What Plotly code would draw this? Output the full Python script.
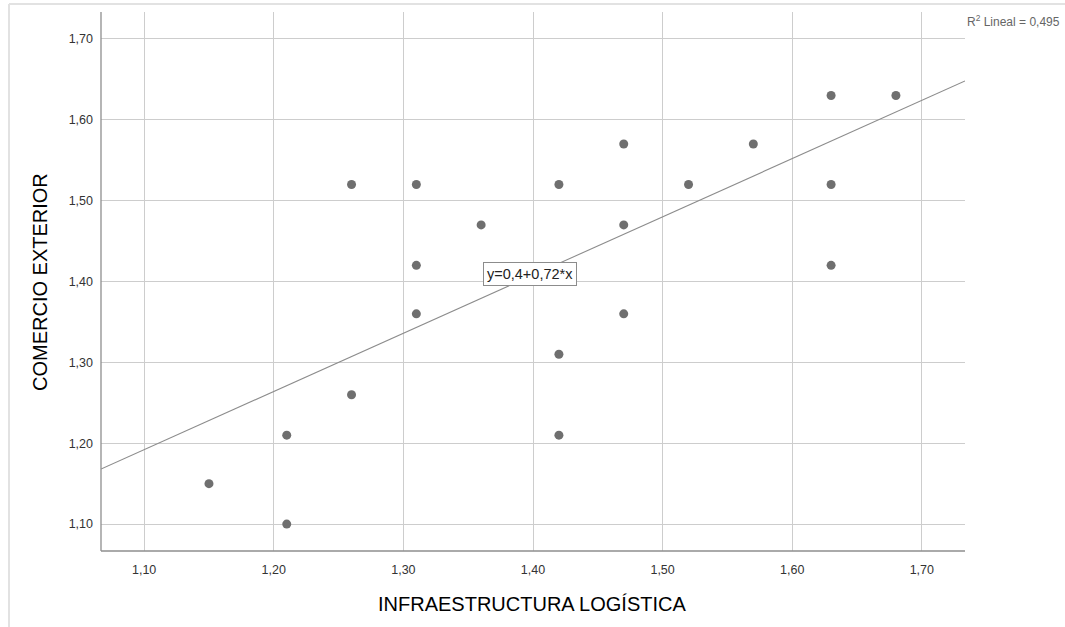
import numpy as np
import plotly.graph_objects as go

# Observed pairs: logistics infrastructure index vs. foreign trade index
infraestructura = [1.15, 1.21, 1.21, 1.26, 1.26, 1.31, 1.31, 1.31, 1.36, 1.42, 1.42,
                   1.42, 1.47, 1.47, 1.47, 1.52, 1.57, 1.63, 1.63, 1.63, 1.68]
comercio = [1.15, 1.10, 1.21, 1.52, 1.26, 1.52, 1.42, 1.36, 1.47, 1.52, 1.31,
            1.21, 1.57, 1.47, 1.36, 1.52, 1.57, 1.63, 1.52, 1.42, 1.63]

# Linear fit reported with the chart
intercepto = 0.4
pendiente = 0.72
r2_lineal = 0.495

x_range = [1.0667, 1.7333]
y_range = [1.0667, 1.7333]

W, H = 1065, 627
L, R, T, B = 101, 100, 12, 76
pw, ph = W - L - R, H - T - B


def px_x(px):
    return (px - L) / pw


def px_y(py):
    return (H - B - py) / ph


fit_x = np.array(x_range)
fit_y = intercepto + pendiente * fit_x

fig = go.Figure()

fig.add_trace(go.Scatter(
    x=fit_x, y=fit_y, mode="lines",
    line=dict(color="#8c8c8c", width=1.1),
    hoverinfo="skip", showlegend=False,
))

fig.add_trace(go.Scatter(
    x=infraestructura, y=comercio, mode="markers",
    marker=dict(color="#6f6f6f", size=9, line=dict(width=0)),
    showlegend=False,
))

axis_common = dict(
    showgrid=True, gridcolor="#cdcdcd", gridwidth=1,
    zeroline=False,
    showline=False,
    ticks="",
    tick0=1.1, dtick=0.1, tickformat=".2f",
    tickfont=dict(family="Liberation Sans, Arial, sans-serif", size=12.5, color="#333333"),
)

fig.update_layout(
    width=W, height=H,
    margin=dict(l=L, r=R, t=T, b=B, autoexpand=False),
    paper_bgcolor="white", plot_bgcolor="white",
    separators=", ",
    xaxis=dict(range=x_range, ticklabelstandoff=9, **axis_common),
    yaxis=dict(range=y_range, ticklabelstandoff=7, **axis_common),
    font=dict(family="Liberation Sans, Arial, sans-serif"),
    shapes=[
        # axis lines (left and bottom only)
        dict(type="line", xref="paper", yref="paper", x0=0, x1=0, y0=0, y1=1,
             line=dict(color="#8e8e8e", width=1.3)),
        dict(type="line", xref="paper", yref="paper", x0=0, x1=1, y0=0, y1=0,
             line=dict(color="#8e8e8e", width=1.3)),
        # outer frame of the chart panel
        dict(type="line", xref="paper", yref="paper",
             x0=px_x(9), x1=px_x(1200), y0=px_y(4), y1=px_y(4),
             line=dict(color="#e2e2e2", width=2)),
        dict(type="line", xref="paper", yref="paper",
             x0=px_x(9), x1=px_x(9), y0=px_y(4), y1=px_y(700),
             line=dict(color="#e2e2e2", width=2)),
    ],
    annotations=[
        dict(text="INFRAESTRUCTURA LOGÍSTICA", xref="paper", yref="paper",
             x=px_x(532), y=px_y(604), xanchor="center", yanchor="middle",
             showarrow=False,
             font=dict(size=20, color="#000000")),
        dict(text="COMERCIO EXTERIOR", xref="paper", yref="paper",
             x=px_x(40), y=px_y(282), xanchor="center", yanchor="middle",
             textangle=-90, showarrow=False,
             font=dict(size=20, color="#000000")),
        dict(text="y=0,4+0,72*x", x=1.398, y=1.409, xref="x", yref="y",
             xanchor="center", yanchor="middle", showarrow=False,
             bgcolor="white", bordercolor="#8c8c8c", borderwidth=1, borderpad=3,
             font=dict(size=14.5, color="#222222")),
        dict(text="R<sup>2</sup> Lineal = " + f"{r2_lineal:.3f}".replace(".", ","),
             xref="paper", yref="paper", x=px_x(965), y=px_y(21),
             xanchor="left", yanchor="middle", showarrow=False,
             font=dict(size=12, color="#666666")),
    ],
)

fig.write_html("out.html")
